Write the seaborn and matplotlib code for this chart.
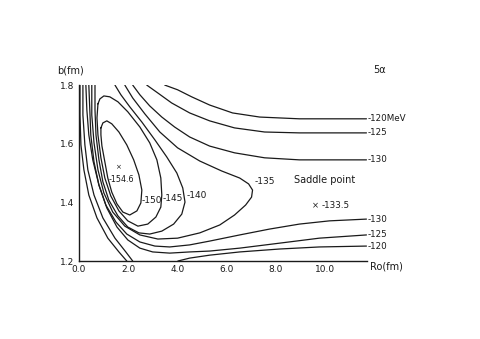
import matplotlib
matplotlib.use('Agg')
import matplotlib.pyplot as plt
import pandas as pd
import seaborn as sns
from matplotlib.ticker import MultipleLocator

# contour pieces: Ro (fm) and b (fm)
c150_x = [0.90, 0.98, 1.14, 1.34, 1.63, 1.95, 2.23, 2.44, 2.56, 2.52, 2.36, 2.07, 1.79, 1.55, 1.34, 1.18,
          1.06, 0.94, 0.90, 0.90]
c150_y = [1.654, 1.671, 1.678, 1.668, 1.640, 1.596, 1.545, 1.494, 1.442, 1.398, 1.371, 1.357, 1.367, 1.395, 1.435, 1.483,
          1.538, 1.593, 1.630, 1.654]

c145_x = [0.78, 0.86, 1.02, 1.26, 1.59, 1.99, 2.48, 2.88, 3.17, 3.33, 3.37, 3.33, 3.13, 2.80, 2.40, 1.99,
          1.63, 1.30, 1.06, 0.90, 0.78, 0.74, 0.78]
c145_y = [1.736, 1.753, 1.763, 1.760, 1.743, 1.709, 1.657, 1.603, 1.545, 1.483, 1.425, 1.384, 1.350, 1.326, 1.319, 1.337,
          1.371, 1.422, 1.483, 1.552, 1.630, 1.688, 1.736]

c140_x = [1.47, 1.71, 2.07, 2.56, 3.09, 3.57, 3.98, 4.22, 4.31, 4.18, 3.85, 3.37, 2.88, 2.44, 1.99, 1.59,
          1.22, 0.98, 0.82, 0.70, 0.66, 0.66]
c140_y = [1.800, 1.767, 1.726, 1.674, 1.613, 1.555, 1.500, 1.449, 1.401, 1.360, 1.326, 1.302, 1.292, 1.296, 1.316, 1.354,
          1.408, 1.470, 1.545, 1.630, 1.715, 1.800]

c135_x = [1.87, 2.19, 2.68, 3.29, 4.01, 4.91, 5.80, 6.53, 6.89, 7.05, 7.01, 6.77, 6.32, 5.72, 4.91, 4.01,
          3.21, 2.48, 1.87, 1.38, 1.02, 0.78, 0.62, 0.53, 0.53]
c135_y = [1.800, 1.756, 1.702, 1.640, 1.586, 1.541, 1.507, 1.483, 1.463, 1.442, 1.418, 1.391, 1.357, 1.323, 1.296, 1.278,
          1.275, 1.289, 1.319, 1.367, 1.432, 1.511, 1.603, 1.698, 1.800]

c130u_x = [2.19, 2.48, 2.88, 3.37, 3.89, 4.50, 5.31, 6.32, 7.54, 8.95, 11.67]
c130u_y = [1.800, 1.767, 1.729, 1.691, 1.657, 1.623, 1.592, 1.569, 1.552, 1.545, 1.545]
c130l_x = [11.67, 10.17, 8.95, 7.74, 6.53, 5.31, 4.50, 3.69, 3.09, 2.48, 1.95, 1.51, 1.10, 0.82, 0.62, 0.49,
           0.45, 0.41]
c130l_y = [1.343, 1.337, 1.326, 1.309, 1.289, 1.268, 1.255, 1.248, 1.251, 1.265, 1.292, 1.333, 1.391, 1.459, 1.538, 1.630,
           1.715, 1.800]

c125u_x = [2.76, 3.21, 3.77, 4.50, 5.31, 6.32, 7.54, 8.95, 11.67]
c125u_y = [1.800, 1.773, 1.739, 1.705, 1.678, 1.654, 1.640, 1.637, 1.637]
c125l_x = [11.67, 9.76, 8.15, 6.53, 5.31, 4.50, 3.69, 3.00, 2.48, 1.99, 1.55, 1.14, 0.82, 0.57, 0.41, 0.33, 0.29]
c125l_y = [1.289, 1.278, 1.261, 1.244, 1.234, 1.231, 1.227, 1.231, 1.244, 1.272, 1.316, 1.381, 1.459, 1.545, 1.630,
           1.715, 1.800]

c120u_x = [3.49, 4.01, 4.58, 5.31, 6.24, 7.34, 8.95, 11.67]
c120u_y = [1.800, 1.784, 1.760, 1.732, 1.705, 1.691, 1.685, 1.685]
c120r_x = [11.67, 9.76, 8.15, 6.53, 5.31, 4.50, 4.02]
c120r_y = [1.251, 1.248, 1.241, 1.231, 1.220, 1.210, 1.200]
c120l_x = [0.17, 0.17, 0.25, 0.37, 0.62, 0.98, 1.47, 1.91, 2.19]
c120l_y = [1.800, 1.698, 1.596, 1.511, 1.425, 1.347, 1.278, 1.231, 1.200]

c115_x = [0.05, 0.05, 0.09, 0.21, 0.41, 0.74, 1.18, 1.63, 1.95]
c115_y = [1.800, 1.698, 1.596, 1.511, 1.425, 1.347, 1.278, 1.231, 1.200]

pieces = {
    'c150': (c150_x, c150_y), 'c145': (c145_x, c145_y), 'c140': (c140_x, c140_y),
    'c135': (c135_x, c135_y), 'c130u': (c130u_x, c130u_y), 'c130l': (c130l_x, c130l_y),
    'c125u': (c125u_x, c125u_y), 'c125l': (c125l_x, c125l_y), 'c120u': (c120u_x, c120u_y),
    'c120r': (c120r_x, c120r_y), 'c120l': (c120l_x, c120l_y), 'c115': (c115_x, c115_y),
}

edge_labels = ['-120MeV', '-125', '-130', '-130', '-125', '-120']
edge_b = [1.685, 1.637, 1.545, 1.343, 1.289, 1.251]

inner_labels = ['-150', '-145', '-140', '-135']
inner_x = [2.96, 3.81, 4.79, 7.55]
inner_y = [1.405, 1.412, 1.422, 1.470]

min_pt = (1.59, 1.52)
min_val = '-154.6'
saddle_pt = (9.61, 1.388)
saddle_val = '-133.5'

rows = []
for name, (xs, ys) in pieces.items():
    for i, (x, y) in enumerate(zip(xs, ys)):
        rows.append((name, i, x, y))
df = pd.DataFrame(rows, columns=['piece', 'order', 'Ro', 'b'])

sns.set_theme(style='white')
plt.rcParams['font.family'] = ['DejaVu Sans']

ink = '#1a1a1a'
fig = plt.figure(figsize=(4.8, 3.39), dpi=100)
ax = fig.add_axes([0.164, 0.230, 0.601, 0.519])

sns.lineplot(data=df, x='Ro', y='b', units='piece', estimator=None, sort=False,
             color=ink, linewidth=0.9, ax=ax, legend=False)

ax.set_xlim(0, 11.7)
ax.set_ylim(1.2, 1.8)
ax.xaxis.set_minor_locator(MultipleLocator(1))
ax.yaxis.set_minor_locator(MultipleLocator(0.1))
ax.set_xticks([0, 2, 4, 6, 8, 10])
ax.set_xticklabels(['0.0', '2.0', '4.0', '6.0', '8.0', '10.0'])
ax.set_yticks([1.2, 1.4, 1.6, 1.8])
ax.set_yticklabels(['1.2', '1.4', '1.6', '1.8'])
ax.tick_params(which='both', direction='in', colors=ink, labelsize=6.5)
ax.tick_params(axis='x', pad=3)
ax.tick_params(axis='y', pad=3)
ax.tick_params(which='major', length=4, width=0.8)
ax.tick_params(which='minor', length=3, width=0.8)
ax.get_yticklabels()[0].set_va('center_baseline')
ax.set_xlabel('')
ax.set_ylabel('')
for s in ['top', 'right']:
    ax.spines[s].set_visible(False)
for s in ['left', 'bottom']:
    ax.spines[s].set_color(ink)
    ax.spines[s].set_linewidth(1.0)

for lab, yb in zip(edge_labels, edge_b):
    ax.text(11.72, yb, lab, fontsize=6.3, ha='left', va='center', color=ink, clip_on=False)

for lab, x, y in zip(inner_labels, inner_x, inner_y):
    ax.text(x, y, lab, fontsize=6.5, ha='center', va='center', color=ink)

ax.text(min_pt[0], min_pt[1], '×', fontsize=5, ha='center', va='center', color=ink)
ax.text(min_pt[0] + 0.15, min_pt[1] - 0.042, min_val, fontsize=5.8, ha='center', va='center', color=ink)
ax.text(saddle_pt[0], saddle_pt[1], '×', fontsize=6, ha='center', va='center', color=ink)
ax.text(saddle_pt[0] + 0.25, saddle_pt[1], saddle_val, fontsize=6.3, ha='left', va='center', color=ink)
ax.text(9.97, 1.476, 'Saddle point', fontsize=7, ha='center', va='center', color=ink)

fig.text(0.146, 0.791, 'b(fm)', fontsize=7, ha='center', va='center', color=ink)
fig.text(0.790, 0.794, '5α', fontsize=7, ha='center', va='center', color=ink)
fig.text(0.805, 0.215, 'Ro(fm)', fontsize=7, ha='center', va='center', color=ink)

fig.savefig('out.png', dpi=100, facecolor='white')
